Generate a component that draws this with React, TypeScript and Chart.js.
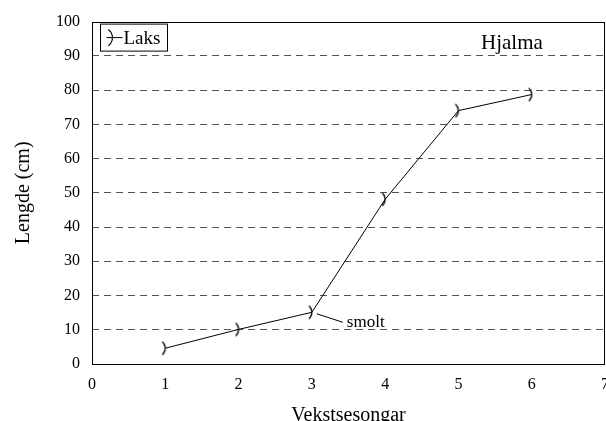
import React, { useEffect, useRef } from "react";
import { Chart, registerables } from "chart.js";

Chart.register(...registerables);

const seasons = [1, 2, 3, 4, 5, 6];
const lengths = [4.6, 10.1, 15.1, 48.1, 74.0, 78.7];
const yTicks = [0, 10, 20, 30, 40, 50, 60, 70, 80, 90, 100];
const xTicks = [0, 1, 2, 3, 4, 5, 6, 7];
const seriesName = "Laks";
const panelTitle = "Hjalma";
const smoltLabel = "smolt";
const smoltIndex = 2;
const xTitle = "Vekstsesongar";
const yTitle = "Lengde (cm)";

const FONT = "'Liberation Serif', 'Times New Roman', serif";

function makeMarker(r: number, half: number): HTMLCanvasElement {
  const c = document.createElement("canvas");
  c.width = 24;
  c.height = 24;
  const g = c.getContext("2d")!;
  g.strokeStyle = "#000";
  g.lineWidth = 1.3;
  g.beginPath();
  g.arc(12 - r, 12, r, -half, half);
  g.stroke();
  return c;
}

export default function App() {
  const ref = useRef<HTMLCanvasElement>(null);
  useEffect(() => {
    if (!ref.current) return;
    const marker = makeMarker(8.5, 0.87);

    const decor = {
      id: "decor",
      afterDraw(chart: any) {
        const { ctx, chartArea: a } = chart;
        ctx.save();
        // frame
        ctx.strokeStyle = "#000";
        ctx.lineWidth = 1;
        ctx.setLineDash([]);
        ctx.strokeRect(Math.round(a.left) + 0.5, Math.round(a.top) + 0.5, Math.round(a.right - a.left) - 1, Math.round(a.bottom - a.top));
        // legend
        const lx = a.left + 8.5;
        const ly = a.top + 2.5;
        ctx.strokeRect(lx, ly, 67, 27);
        ctx.beginPath();
        ctx.moveTo(lx + 6, ly + 13.5);
        ctx.lineTo(lx + 22, ly + 13.5);
        ctx.stroke();
        ctx.beginPath();
        ctx.lineWidth = 1.2;
        ctx.arc(lx + 12 - 10, ly + 13.5, 10, -0.95, 0.95);
        ctx.stroke();
        ctx.fillStyle = "#000";
        ctx.font = `19px ${FONT}`;
        ctx.textBaseline = "alphabetic";
        ctx.textAlign = "left";
        ctx.fillText(seriesName, lx + 23, ly + 20);
        // panel title
        ctx.font = `21px ${FONT}`;
        ctx.fillText(panelTitle, a.left + 389, a.top + 27);
        // smolt annotation
        const xs = chart.scales.x;
        const ys = chart.scales.y;
        const px = xs.getPixelForValue(seasons[smoltIndex]);
        const py = ys.getPixelForValue(lengths[smoltIndex]);
        ctx.lineWidth = 1;
        ctx.beginPath();
        ctx.moveTo(px + 5, py + 1.5);
        ctx.lineTo(px + 31, py + 10);
        ctx.stroke();
        ctx.font = `17px ${FONT}`;
        ctx.fillText(smoltLabel, px + 35, py + 15);
        ctx.restore();
      },
    };

    const chart = new Chart(ref.current, {
      type: "line",
      data: {
        datasets: [
          {
            label: seriesName,
            data: seasons.map((s, i) => ({ x: s, y: lengths[i] })),
            borderColor: "#000",
            borderWidth: 1,
            pointStyle: marker as any,
            pointRadius: 8,
            tension: 0,
            fill: false,
          },
        ],
      },
      options: {
        animation: false,
        responsive: true,
        maintainAspectRatio: false,
        layout: { padding: { top: 21, right: 10, left: 0, bottom: 0 } },
        plugins: { legend: { display: false }, tooltip: { enabled: false } },
        scales: {
          x: {
            type: "linear",
            min: 0,
            max: 7,
            afterBuildTicks: (s: any) => {
              s.ticks = xTicks.map((v) => ({ value: v }));
            },
            afterFit: (s: any) => {
              s.height = 57;
            },
            grid: { display: false, drawTicks: false },
            border: { display: false },
            ticks: { color: "#000", font: { family: FONT, size: 16 }, padding: 11, maxRotation: 0, autoSkip: false },
            title: {
              display: true,
              text: xTitle,
              color: "#000",
              font: { family: FONT, size: 20, lineHeight: 1 },
              padding: { top: 0, bottom: -5 },
            },
          },
          y: {
            min: 0,
            max: 100,
            afterBuildTicks: (s: any) => {
              s.ticks = yTicks.map((v) => ({ value: v }));
            },
            afterFit: (s: any) => {
              s.width = 92;
            },
            grid: {
              drawTicks: false,
              color: (c: any) => (c.tick && (c.tick.value === 0 || c.tick.value === 100) ? "rgba(0,0,0,0)" : "#555"),
              lineWidth: 1,
            },
            border: { display: false, dash: [7, 5] },
            ticks: { color: "#000", font: { family: FONT, size: 16 }, padding: 12 },
            title: {
              display: true,
              text: yTitle,
              color: "#000",
              font: { family: FONT, size: 20, lineHeight: 1 },
              padding: { top: 14, bottom: 0 },
            },
          },
        },
      },
      plugins: [decor],
    });
    return () => chart.destroy();
  }, []);

  return (
    <div style={{ position: "fixed", left: 0, top: 0, width: 606, height: 421, overflow: "hidden", background: "#fff" }}>
      <div style={{ position: "relative", width: 620, height: 421 }}>
        <canvas ref={ref} />
      </div>
    </div>
  );
}
